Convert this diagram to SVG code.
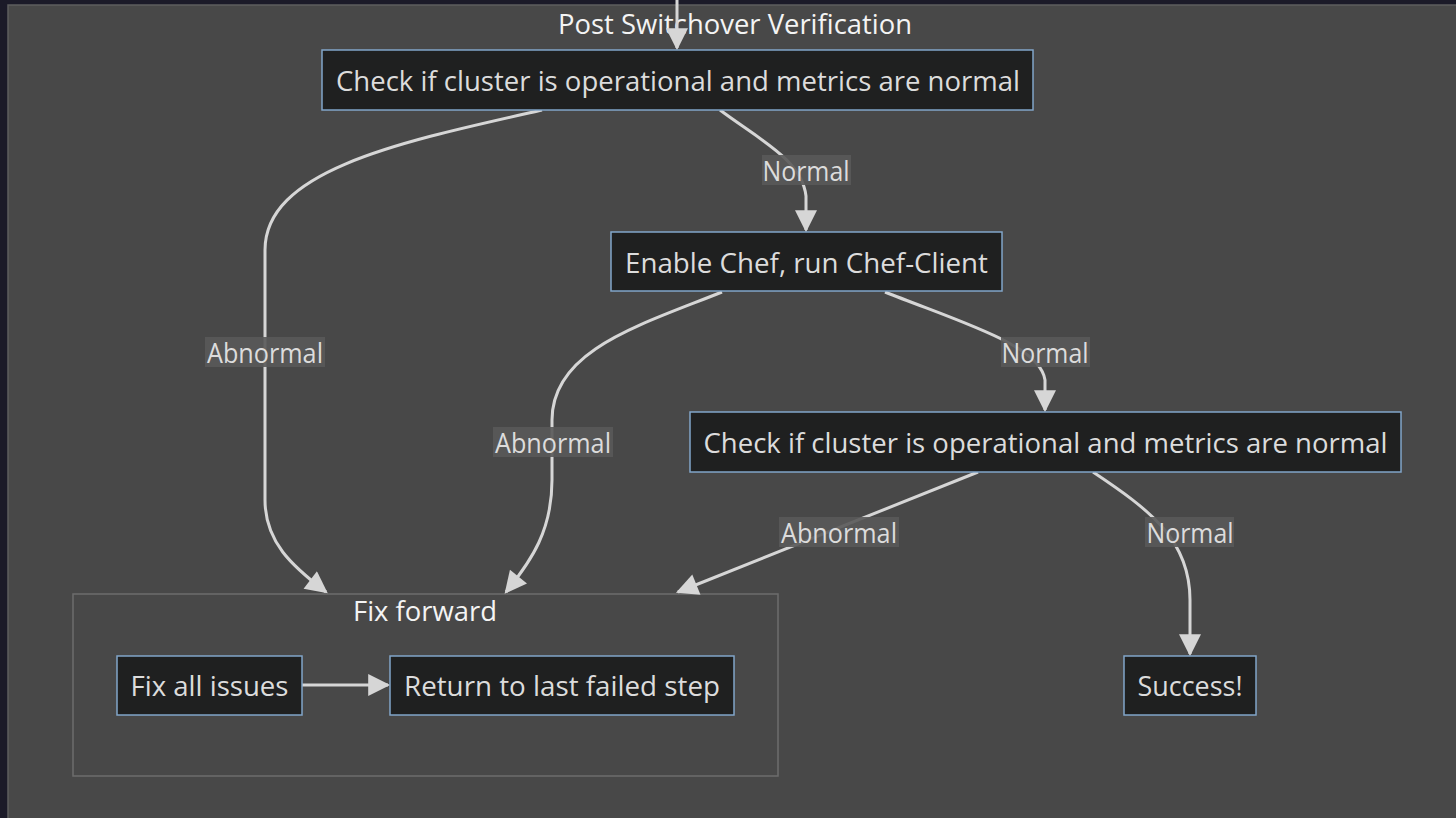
<svg xmlns="http://www.w3.org/2000/svg" width="1456" height="818" viewBox="0 0 1456 818">
<defs>
<style>
.node rect{fill:#1f2020;stroke:#81a5c9;stroke-width:1.5}
.node text,.lbl text{font-family:"Open Sans","Noto Sans",sans-serif;font-size:27px;fill:#dcdcdc;text-anchor:middle;dominant-baseline:central}
.title{font-family:"Open Sans","Noto Sans",sans-serif;font-size:27px;fill:#f4f4f4;text-anchor:middle;dominant-baseline:central}
.edge{fill:none;stroke:#d6d6d6;stroke-width:3}
.lbl rect{fill:#595959;opacity:0.9}
.cluster{fill:none;stroke:#6c6c6c;stroke-width:1.5}
</style>
<marker id="arr" markerUnits="userSpaceOnUse" markerWidth="24" markerHeight="22" viewBox="0 0 10 10" refX="9" refY="5" orient="auto">
<path d="M0,0 L10,5 L0,10 z" fill="#d6d6d6"/>
</marker>
</defs>
<rect width="1456" height="818" fill="#1b1a28"/>
<rect x="8" y="5" width="1460" height="830" fill="#484848" stroke="#5e5e5e" stroke-width="1.5"/>
<text class="title" x="735" y="23" textLength="354" lengthAdjust="spacingAndGlyphs">Post Switchover Verification</text>
<g id="cluster-fixforward">
<rect class="cluster" x="73" y="594" width="705" height="182"/>
<text class="title" x="425" y="610" textLength="144" lengthAdjust="spacingAndGlyphs">Fix forward</text>
</g>
<g id="connectors">
<path class="edge" d="M677,0 L677,48" marker-end="url(#arr)"/>
<path class="edge" d="M542,110 C400,142 265,170 265,250 L265,500 C265,542 292,566 326,592" marker-end="url(#arr)"/>
<path class="edge" d="M720,110 C760,140 802,160 806,196 L806,230" marker-end="url(#arr)"/>
<path class="edge" d="M722,292 C640,325 552,350 552,420 L552,480 C552,530 532,560 506,592" marker-end="url(#arr)"/>
<path class="edge" d="M885,292 C960,322 1040,345 1045,380 L1045,410" marker-end="url(#arr)"/>
<path class="edge" d="M978,472 L678,592" marker-end="url(#arr)"/>
<path class="edge" d="M1093,472 C1150,510 1190,540 1190,600 L1190,654" marker-end="url(#arr)"/>
<path class="edge" d="M302,685 L388,685" marker-end="url(#arr)"/>
</g>
<g id="edge-labels">
<g class="lbl"><rect x="205" y="337" width="120" height="30"/><text x="265" y="352" textLength="116" lengthAdjust="spacingAndGlyphs">Abnormal</text></g>
<g class="lbl"><rect x="762" y="155" width="89" height="30"/><text x="806" y="170" textLength="87" lengthAdjust="spacingAndGlyphs">Normal</text></g>
<g class="lbl"><rect x="493" y="427" width="120" height="30"/><text x="553" y="442" textLength="116" lengthAdjust="spacingAndGlyphs">Abnormal</text></g>
<g class="lbl"><rect x="1001" y="337" width="89" height="30"/><text x="1045" y="352" textLength="87" lengthAdjust="spacingAndGlyphs">Normal</text></g>
<g class="lbl"><rect x="779" y="517" width="120" height="30"/><text x="839" y="532" textLength="116" lengthAdjust="spacingAndGlyphs">Abnormal</text></g>
<g class="lbl"><rect x="1145" y="517" width="89" height="30"/><text x="1190" y="532" textLength="87" lengthAdjust="spacingAndGlyphs">Normal</text></g>
</g>
<g id="n-check1" class="node"><rect x="322" y="50" width="711" height="60"/><text x="678" y="80" textLength="684" lengthAdjust="spacingAndGlyphs">Check if cluster is operational and metrics are normal</text></g>
<g id="n-enable" class="node"><rect x="611" y="232" width="391" height="59"/><text x="806.5" y="262" textLength="363" lengthAdjust="spacingAndGlyphs">Enable Chef, run Chef-Client</text></g>
<g id="n-check2" class="node"><rect x="690" y="412" width="711" height="60"/><text x="1045.5" y="442" textLength="684" lengthAdjust="spacingAndGlyphs">Check if cluster is operational and metrics are normal</text></g>
<g id="n-fixall" class="node"><rect x="117" y="656" width="185" height="59"/><text x="209.5" y="685.5" textLength="158" lengthAdjust="spacingAndGlyphs">Fix all issues</text></g>
<g id="n-return" class="node"><rect x="390" y="656" width="344" height="59"/><text x="562" y="685.5" textLength="316" lengthAdjust="spacingAndGlyphs">Return to last failed step</text></g>
<g id="n-success" class="node"><rect x="1124" y="656" width="132" height="59"/><text x="1190" y="685.5" textLength="105" lengthAdjust="spacingAndGlyphs">Success!</text></g>
</svg>
